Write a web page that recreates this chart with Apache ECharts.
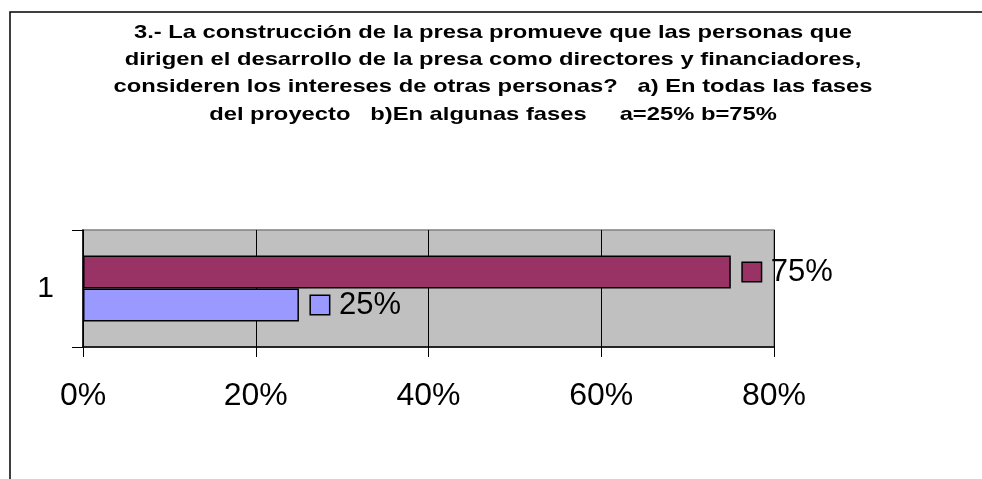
<!DOCTYPE html>
<html>
<head>
<meta charset="utf-8">
<script src="https://cdn.jsdelivr.net/npm/echarts@6/dist/echarts.min.js"></script>
<style>
  html, body { margin: 0; padding: 0; background: #fff; }
  #main { width: 982px; height: 479px; }
</style>
</head>
<body>
<div id="main"></div>
<script>
// datos del gráfico
const categories = ["1"];
const serieA = [25]; // a) En todas las fases
const serieB = [75]; // b) En algunas fases
const titleLines = [
  "3.- La construcción de la presa promueve que las personas que",
  "dirigen el desarrollo de la presa como directores y financiadores,",
  "consideren los intereses de otras personas?   a) En todas las fases",
  "del proyecto   b)En algunas fases     a=25% b=75%"
];

const FONT = "Arial, 'Liberation Sans', sans-serif";

// etiqueta con cuadrito de color + valor
function makeLabel(color) {
  return {
    show: true,
    position: "right",
    distance: 12,
    formatter: "{box|}{v|{c}%}",
    rich: {
      box: {
        width: 18,
        height: 18,
        backgroundColor: color,
        borderColor: "#000",
        borderWidth: 1.5,
      },
      v: {
        fontSize: 31,
        fontFamily: FONT,
        color: "#000",
        padding: [0, 0, 0, 10],
      },
    },
  };
}

const option = {
  backgroundColor: "#fff",
  animation: false,
  graphic: [
    // marco del gráfico
    {
      type: "polyline",
      shape: { points: [[10, 479], [10, 12], [982, 12]] },
      style: { stroke: "#000", lineWidth: 1.5, fill: null },
    },
    // título (texto un poco ensanchado como en el original)
    {
      type: "text",
      x: 493,
      y: 19,
      scaleX: 1.25,
      style: {
        text: titleLines.join("\n"),
        font: "bold 19px " + FONT,
        textAlign: "center",
        textVerticalAlign: "top",
        lineHeight: 27.3,
        fill: "#000",
      },
    },
  ],
  grid: {
    left: 83,
    top: 230,
    right: 208,
    bottom: 132,
    show: true,
    backgroundColor: "#C0C0C0",
    borderColor: "#808080",
    borderWidth: 1.5,
  },
  xAxis: {
    type: "value",
    min: 0,
    max: 80,
    interval: 20,
    axisLine: { show: true, lineStyle: { color: "#000", width: 1.5 } },
    axisTick: { show: true, length: 10, lineStyle: { color: "#000" } },
    splitLine: { show: true, lineStyle: { color: "#000", width: 1 } },
    axisLabel: {
      formatter: "{value}%",
      fontSize: 32,
      fontFamily: FONT,
      color: "#000",
      margin: 33,
    },
  },
  yAxis: {
    type: "category",
    data: categories,
    axisLine: { show: true, lineStyle: { color: "#000", width: 1.5 } },
    axisTick: { show: true, length: 11, lineStyle: { color: "#000" } },
    axisLabel: {
      fontSize: 30,
      fontFamily: FONT,
      color: "#000",
      margin: 29,
    },
  },
  series: [
    {
      name: "b",
      type: "bar",
      data: serieB,
      barWidth: 33,
      barGap: "0%",
      itemStyle: { color: "#993366", borderColor: "#000", borderWidth: 1.5 },
      label: makeLabel("#993366"),
    },
    {
      name: "a",
      type: "bar",
      data: serieA,
      barWidth: 33,
      barGap: "0%",
      itemStyle: { color: "#9999FF", borderColor: "#000", borderWidth: 1.5 },
      label: makeLabel("#9999FF"),
    },
  ],
};

var myChart = echarts.init(document.getElementById("main"));
myChart.setOption(option);
</script>
</body>
</html>
